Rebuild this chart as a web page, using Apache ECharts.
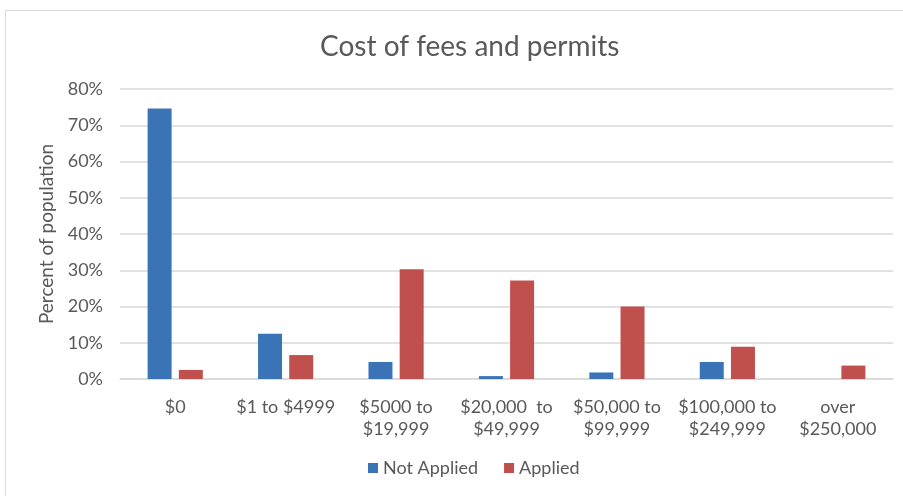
<!DOCTYPE html>
<html>
<head>
<meta charset="utf-8">
<script src="https://cdn.jsdelivr.net/npm/echarts@6/dist/echarts.min.js"></script>
<style>
  html, body { margin: 0; padding: 0; background: #fff; }
  #chart { width: 903px; height: 496px; }
</style>
</head>
<body>
<div id="chart"></div>
<script>
var categories = ['$0', '$1 to $4999', '$5000 to\n$19,999', '$20,000  to\n$49,999', '$50,000 to\n$99,999', '$100,000 to\n$249,999', 'over\n$250,000'];
var notApplied = [74.6, 12.5, 4.7, 0.8, 1.8, 4.7, 0];
var applied = [2.5, 6.6, 30.3, 27.2, 20.0, 8.9, 3.7];
var yTicks = [0, 10, 20, 30, 40, 50, 60, 70, 80];

var font = 'Lato, "Open Sans", sans-serif';
var textColor = '#595959';

var chart = echarts.init(document.getElementById('chart'), null, { renderer: 'canvas' });
chart.setOption({
  animation: false,
  graphic: [{
    type: 'rect', left: 5, top: 10, z: -1,
    shape: { width: 905, height: 500 },
    style: { fill: '#fff', stroke: '#d9d9d9', lineWidth: 1 }
  }],
  title: {
    text: 'Cost of fees and permits', left: 315, top: 28,
    textStyle: { fontFamily: font, fontSize: 28, fontWeight: 'normal', color: textColor }
  },
  legend: {
    bottom: 14, left: 363, itemWidth: 10, itemHeight: 10, itemGap: 26,
    icon: 'rect',
    textStyle: { fontFamily: font, fontSize: 18, color: textColor },
    data: ['Not Applied', 'Applied']
  },
  grid: { left: 120, right: 10, top: 89, bottom: 117 },
  xAxis: {
    type: 'category', data: categories,
    axisTick: { show: false },
    axisLine: { lineStyle: { color: '#d9d9d9', width: 1.5 } },
    axisLabel: { fontFamily: font, fontSize: 18, color: textColor, margin: 17, lineHeight: 22, interval: 0 }
  },
  yAxis: {
    type: 'value', min: yTicks[0], max: yTicks[yTicks.length - 1], interval: 10,
    name: 'Percent of population', nameLocation: 'middle', nameGap: 57,
    nameTextStyle: { fontFamily: font, fontSize: 19, color: textColor },
    axisLabel: { fontFamily: font, fontSize: 18, color: textColor, margin: 17, formatter: '{value}%' },
    splitLine: { lineStyle: { color: '#d9d9d9', width: 1.5 } },
    axisLine: { show: false }, axisTick: { show: false }
  },
  series: [
    { name: 'Not Applied', type: 'bar', data: notApplied, barWidth: 24, barGap: '30%',
      itemStyle: { color: '#3a74b7' } },
    { name: 'Applied', type: 'bar', data: applied, barWidth: 24,
      itemStyle: { color: '#c0504d' } }
  ]
});
</script>
</body>
</html>
